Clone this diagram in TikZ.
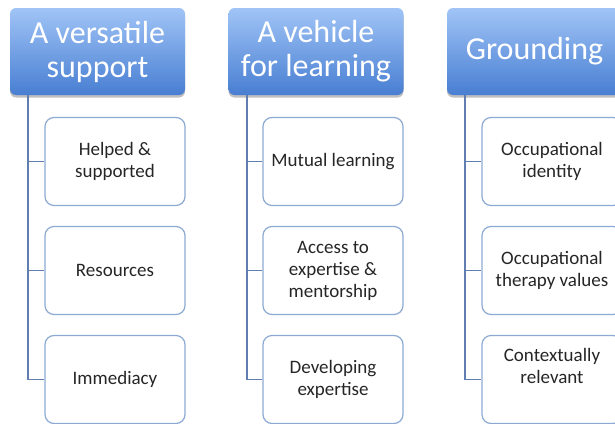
\documentclass[tikz,border=0pt]{standalone}
\usepackage{fontspec}
\setmainfont{Carlito}
\usetikzlibrary{shadows}
\definecolor{hdtop}{RGB}{160,196,246}
\definecolor{hdbot}{RGB}{72,126,210}
\definecolor{boxline}{RGB}{140,170,212}
\definecolor{conline}{RGB}{96,126,176}
\definecolor{txt}{RGB}{38,38,38}
\tikzset{
  hdr/.style={minimum width=175pt, minimum height=87pt, rounded corners=6pt,
    top color=hdtop, bottom color=hdbot, draw=none, text=white, align=center,
    inner sep=0pt, font=\fontsize{32}{34}\selectfont,
    drop shadow={shadow xshift=0pt, shadow yshift=-2.5pt, opacity=0.25, fill=black}},
  child/.style={minimum width=140pt, minimum height=88pt, rounded corners=9pt,
    draw=boxline, line width=1.2pt, fill=white, text=txt, align=center,
    inner sep=0pt, font=\fontsize{19}{22}\selectfont},
  conn/.style={draw=conline, line width=1.1pt}
}
\begin{document}
\begin{tikzpicture}[x=1pt, y=-1pt]
\useasboundingbox (0,0) rectangle (615,423);
\clip (0,0) rectangle (615,423);
\fill[white] (0,0) rectangle (615,423);
% column 1
\node[hdr] (h1) at (97.5,51.5) {A versatile\\support};
\coordinate (s1) at (28,95);
\node[child] (c11) at (115,161.5) {Helped \&\\supported};
\node[child] (c12) at (115,270.5) {Resources};
\node[child] (c13) at (115,379.5) {Immediacy};
\draw[conn] (s1) |- (c11.west);
\draw[conn] (s1) |- (c12.west);
\draw[conn] (s1) |- (c13.west);
% column 2
\node[hdr] (h2) at (316,51.5) {A vehicle\\for learning};
\coordinate (s2) at (247,95);
\node[child] (c21) at (333,161.5) {Mutual learning};
\node[child] (c22) at (333,270.5) {Access to\\expertise \&\\mentorship};
\node[child] (c23) at (333,379.5) {Developing\\expertise};
\draw[conn] (s2) |- (c21.west);
\draw[conn] (s2) |- (c22.west);
\draw[conn] (s2) |- (c23.west);
% column 3
\node[hdr] (h3) at (534.5,51.5) {Grounding};
\coordinate (s3) at (465,95);
\node[child] (c31) at (552,161.5) {Occupational\\identity};
\node[child] (c32) at (552,270.5) {Occupational\\therapy values};
\node[child, text depth=0pt] (c33) at (552,379.5) {};
\node[text=txt, align=center, font=\fontsize{19}{22}\selectfont, inner sep=0pt] (t33) at (552,366) {Contextually\\relevant};
\draw[conn] (s3) |- (c31.west);
\draw[conn] (s3) |- (c32.west);
\draw[conn] (s3) |- (c33.west);
\end{tikzpicture}
\end{document}
